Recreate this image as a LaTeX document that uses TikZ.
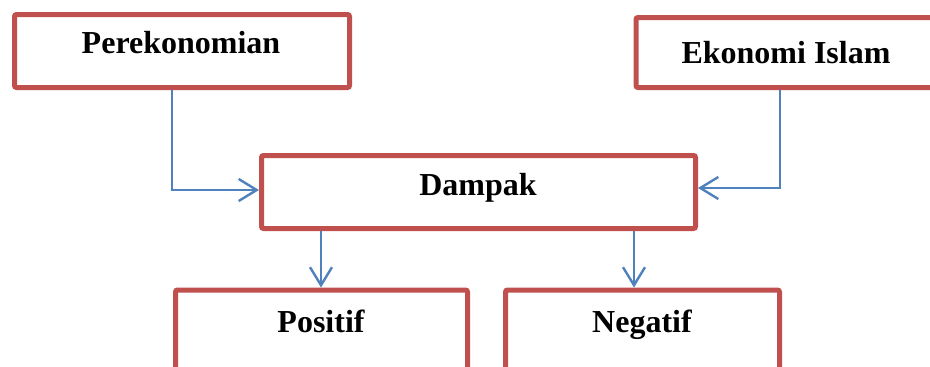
\documentclass[tikz,border=0pt]{standalone}
\usepackage{fontspec}
\setmainfont{Liberation Serif}
\usetikzlibrary{arrows.meta}
\definecolor{boxred}{RGB}{192,80,77}
\definecolor{lineblue}{RGB}{79,129,189}
\tikzset{
  redbox/.style={draw=boxred, line width=5pt, rounded corners=2pt, fill=white, inner sep=0pt},
  lbl/.style={anchor=base, font=\fontsize{32}{36}\selectfont\bfseries, inner sep=0pt},
  conn/.style={draw=lineblue, line width=2.2pt, -{Straight Barb[length=18pt,width=22pt,line width=2.4pt]}}
}
\begin{document}
\begin{tikzpicture}[x=1pt,y=-1pt]
\useasboundingbox (0,0) rectangle (930,367);
\clip (0,0) rectangle (930,367);
\fill[white] (0,0) rectangle (930,367);
\node[redbox, minimum width=335pt, minimum height=73pt] (perek) at (182,51) {};
\node[redbox, minimum width=306pt, minimum height=70pt] (islam) at (789,52.5) {};
\node[redbox, minimum width=434pt, minimum height=73pt] (dampak) at (478.5,192) {};
\node[redbox, minimum width=292pt, minimum height=82pt] (positif) at (321.5,331) {};
\node[redbox, minimum width=274pt, minimum height=82pt] (negatif) at (642.5,331) {};
\node[lbl] (perekt) at (181,53) {Perekonomian};
\node[lbl] (islamt) at (786,63) {Ekonomi Islam};
\node[lbl] (dampakt) at (478,195) {Dampak};
\node[lbl] (positift) at (321,332) {Positif};
\node[lbl] (negatift) at (642,332) {Negatif};
\coordinate (j1) at (172,190);
\coordinate (j2) at (780,188);
\coordinate (d1) at (321,0);
\coordinate (d2) at (634,0);
\draw[conn] (perek.south -| j1) |- (dampak.west |- j1);
\draw[conn] (islam.south -| j2) |- (dampak.east |- j2);
\draw[conn] (dampak.south -| d1) -- (positif.north -| d1);
\draw[conn] (dampak.south -| d2) -- (negatif.north -| d2);
\end{tikzpicture}
\end{document}
